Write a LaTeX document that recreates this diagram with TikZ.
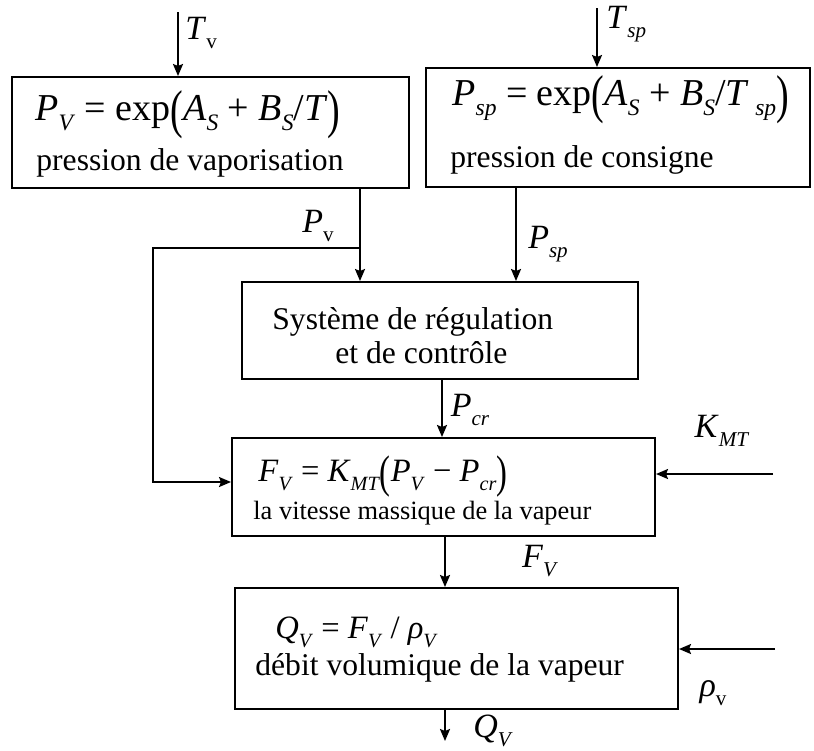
\documentclass[tikz,border=0pt]{standalone}
\usepackage{fontspec}
\setmainfont{Liberation Serif}
\usepackage{graphicx}
\usetikzlibrary{arrows.meta}
\newcommand{\mv}[1]{\textit{#1}}
\newcommand{\sbs}[1]{\raisebox{-0.28em}{\scalebox{0.62}{#1}}}
\newcommand{\lpar}{\raisebox{-0.2em}{\scalebox{1}[1.4]{(}}}
\newcommand{\rpar}{\raisebox{-0.2em}{\scalebox{1}[1.4]{)}}}
\begin{document}
\begin{tikzpicture}[x=0.5pt,y=-0.5pt,
  blk/.style={draw, line width=1pt, inner sep=0pt},
  lbl/.style={inner sep=0pt, font=\fontsize{17}{20}\selectfont},
  txt/.style={inner sep=0pt, anchor=west, font=\fontsize{15.8}{19}\selectfont},
  frm/.style={inner sep=0pt, anchor=west, font=\fontsize{19}{22}\selectfont},
  frms/.style={inner sep=0pt, anchor=west, font=\fontsize{16.3}{19}\selectfont},
  arr/.style={line width=1pt, -{Stealth[length=6pt,width=5pt,inset=1pt]}},
  ln/.style={line width=1pt}]
\useasboundingbox (0,0) rectangle (814,750);
% boxes
\node[blk, minimum width=198.5pt, minimum height=55.5pt] (b1) at (210.5,132.5) {};
\node[blk, minimum width=192pt, minimum height=59.5pt] (b2) at (618,127.5) {};
\node[blk, minimum width=198pt, minimum height=48.5pt] (mid) at (440,330.5) {};
\node[blk, minimum width=211.5pt, minimum height=49pt] (fb) at (443.5,487) {};
\node[blk, minimum width=221.5pt, minimum height=60.5pt] (qb) at (456.5,648.5) {};
% box texts
\node[frm] (f1) at (35,115) {\mv{P}\sbs{\mv{V}} = exp\lpar\mv{A}\sbs{\mv{S}} + \mv{B}\sbs{\mv{S}}/\mv{T}\rpar};
\node[txt] (s1) at (36,163) {pression de vaporisation};
\node[frm] (f2) at (452,100) {\mv{P}\sbs{\mv{sp}} = exp\lpar\mv{A}\sbs{\mv{S}} + \mv{B}\sbs{\mv{S}}/\mv{T}\,\sbs{\mv{sp}}\rpar};
\node[txt] (s2) at (450,160) {pression de consigne};
\node[txt] (m1) at (272,322) {Système de régulation};
\node[txt] (m2) at (335,353) {et de contrôle};
\node[frms] (f3) at (258,477) {\mv{F}\sbs{\mv{V}} = \mv{K}\sbs{\mv{MT}}\lpar\mv{P}\sbs{\mv{V}} − \mv{P}\sbs{\mv{cr}}\rpar};
\node[txt, font=\fontsize{13.2}{16}\selectfont] (s3) at (253,513) {la vitesse massique de la vapeur};
\node[frms] (f4) at (275,632) {\mv{Q}\sbs{\mv{V}} = \mv{F}\sbs{\mv{V}} / \mv{ρ}\sbs{\mv{V}}};
\node[txt] (s4) at (255,668) {débit volumique de la vapeur};
% free ends and bends
\coordinate (tv) at (178,12);
\coordinate (tsp) at (597,8);
\coordinate (pvx) at (360,0);
\coordinate (pspx) at (516,0);
\coordinate (pcrx) at (442,0);
\coordinate (fvx) at (445,0);
\coordinate (j) at (360,248);
\coordinate (c1) at (153,248);
\coordinate (c2) at (153,482);
\coordinate (kmt) at (773,474);
\coordinate (rho) at (775,649);
\coordinate (qout) at (445,741);
% connectors
\draw[arr] (tv) -- (tv |- b1.north);
\draw[arr] (tsp) -- (tsp |- b2.north);
\draw[arr] (b1.south -| pvx) -- (mid.north -| pvx);
\draw[arr] (j) -- (c1) -- (c2) -- (c2 -| fb.west);
\draw[arr] (b2.south -| pspx) -- (mid.north -| pspx);
\draw[arr] (mid.south -| pcrx) -- (fb.north -| pcrx);
\draw[arr] (kmt) -- (kmt -| fb.east);
\draw[arr] (fb.south -| fvx) -- (qb.north -| fvx);
\draw[arr] (rho) -- (rho -| qb.east);
\draw[arr] (qb.south -| qout) -- (qout);
% labels
\node[lbl, anchor=west] (ltv) at (185,33) {\mv{T}\sbs{v}};
\node[lbl, anchor=west] (ltsp) at (606,24) {\mv{T}\sbs{\mv{sp}}};
\node[lbl] (lpv) at (318,226) {\mv{P}\sbs{v}};
\node[lbl] (lpsp) at (548,244) {\mv{P}\sbs{\mv{sp}}};
\node[lbl] (lpcr) at (470,410) {\mv{P}\sbs{\mv{cr}}};
\node[lbl] (lkmt) at (722,431) {\mv{K}\sbs{\mv{MT}}};
\node[lbl] (lfv) at (540,561) {\mv{F}\sbs{\mv{V}}};
\node[lbl] (lrho) at (713,693) {\mv{ρ}\sbs{v}};
\node[lbl] (lqv) at (493,731) {\mv{Q}\sbs{\mv{V}}};
\end{tikzpicture}
\end{document}
